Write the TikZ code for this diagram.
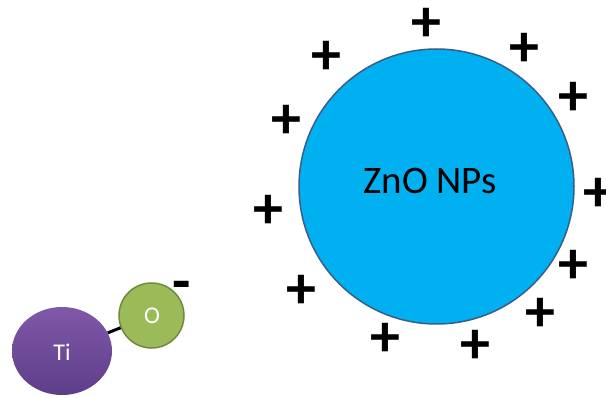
\documentclass[tikz,border=0pt]{standalone}
\usepackage{fontspec}
\setmainfont{Carlito}
\usetikzlibrary{shapes.geometric}
\definecolor{znofill}{RGB}{0,176,240}
\definecolor{znoline}{RGB}{56,93,138}
\definecolor{titop}{RGB}{128,88,168}
\definecolor{tibot}{RGB}{94,62,136}
\definecolor{ofill}{RGB}{155,187,89}
\definecolor{oline}{RGB}{113,137,63}
\begin{document}
\begin{tikzpicture}[x=1pt,y=-1pt,
  plus/.style={inner sep=0pt, text height=0.62em, text depth=0pt,
    font=\fontsize{60}{60}\selectfont\bfseries},
  atomlabel/.style={text=white, font=\fontsize{24}{24}\selectfont}]
\useasboundingbox (0,0) rectangle (606,398);
% ZnO particle
\node[circle, minimum size=275pt, inner sep=0pt, fill=znofill,
  draw=znoline, line width=1.5pt] (zno) at (436.5,186.5) {};
\node[font=\fontsize{39}{39}\selectfont] (znotext) at (430,181) {ZnO NPs};
% plus charges
\node[plus] (p1) at (426,38) {+};
\node[plus] (p2) at (326.5,71) {+};
\node[plus] (p3) at (524,63) {+};
\node[plus] (p4) at (573,112) {+};
\node[plus] (p5) at (286,135) {+};
\node[plus] (p6) at (268,225) {+};
\node[plus] (p7) at (598,208) {+};
\node[plus] (p8) at (573,280) {+};
\node[plus] (p9) at (540,328) {+};
\node[plus] (p10) at (475,360) {+};
\node[plus] (p11) at (385,353) {+};
\node[plus] (p12) at (301.5,305) {+};
% TiO
\node[ellipse, minimum width=100pt, minimum height=88pt, inner sep=0pt,
  top color=titop, bottom color=tibot] (ti) at (62,351) {};
\node[atomlabel] (titext) at (62,352) {Ti};
\node[circle, minimum size=65pt, inner sep=0pt, fill=ofill,
  draw=oline, line width=1.5pt] (o) at (151.5,315.5) {};
\node[atomlabel] (otext) at (152,316) {O};
\draw[line width=3pt] (ti) -- (o);
\node[font=\fontsize{60}{60}\selectfont\bfseries, inner sep=0pt,
  text height=0.4em, text depth=0pt] (minus) at (182,300) {-};
\end{tikzpicture}
\end{document}
